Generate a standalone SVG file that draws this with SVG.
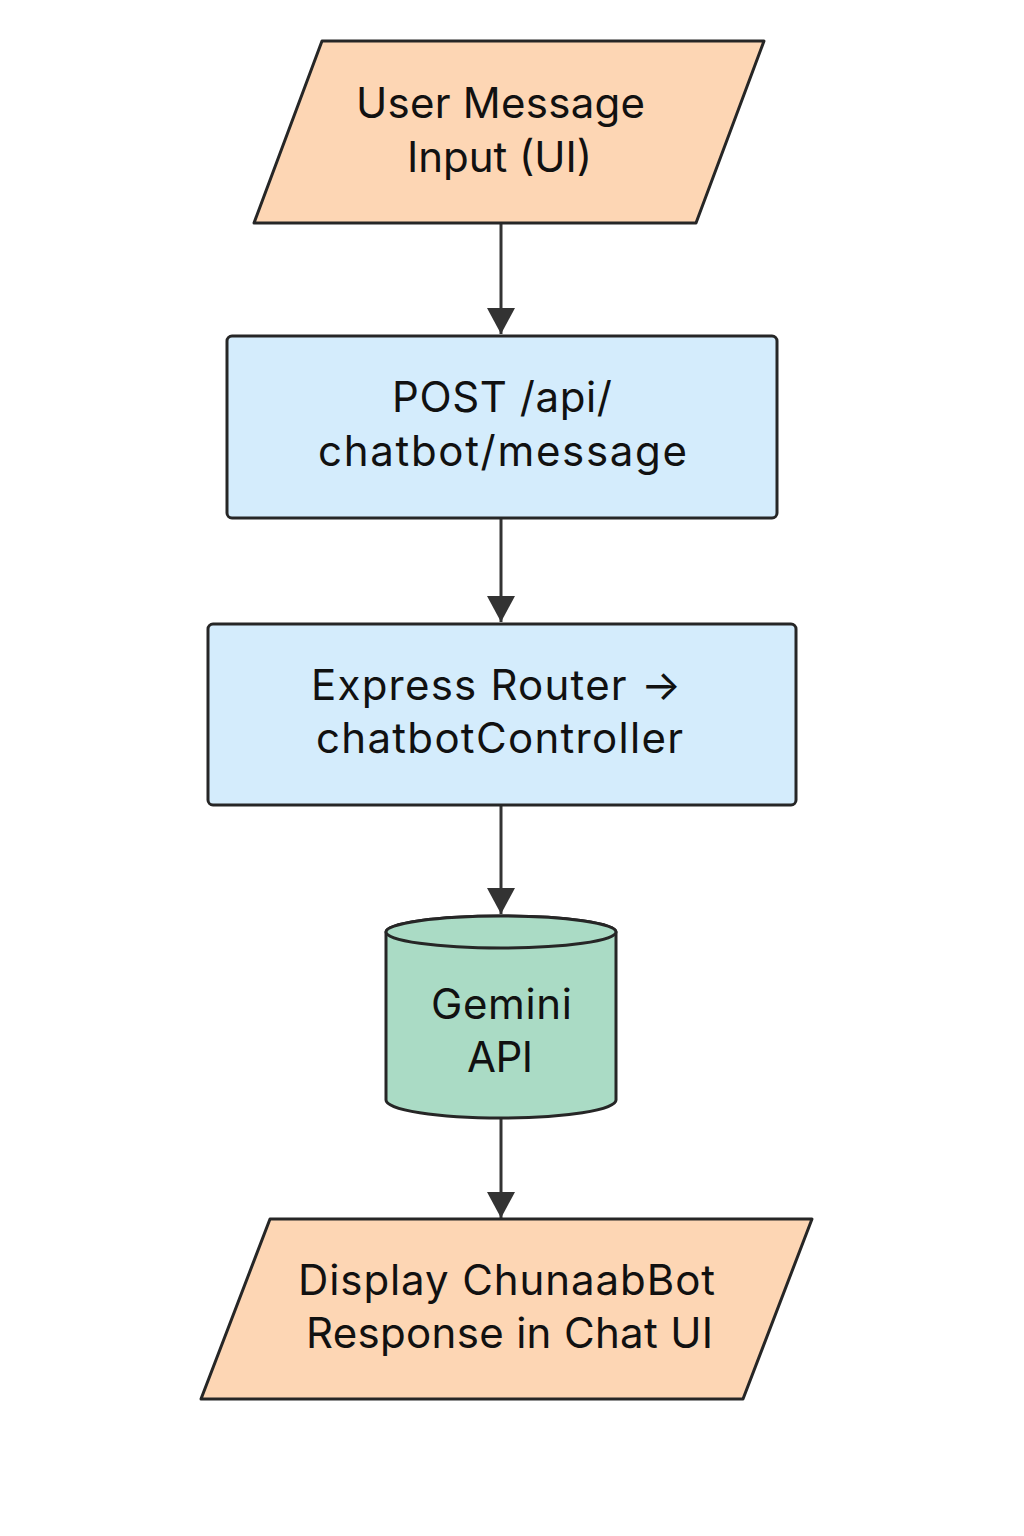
<svg xmlns="http://www.w3.org/2000/svg" width="1024" height="1536" viewBox="0 0 1024 1536">
<defs>
<style>
.s{stroke:#262626;stroke-width:3;stroke-linejoin:round}
.io{fill:#FDD6B4}
.pr{fill:#D4ECFC}
.db{fill:#AADBC5}
.t{font-family:Inter,"Noto Sans",sans-serif;font-size:42px;fill:#111;text-anchor:middle}
.c{stroke:#333;stroke-width:3;fill:none}
</style>
<marker id="a" viewBox="0 0 26 28" refX="26" refY="14" markerWidth="26" markerHeight="28" markerUnits="userSpaceOnUse" orient="auto">
<path d="M0,0 L26,14 L0,28 z" fill="#333"/>
</marker>
</defs>
<rect width="1024" height="1536" fill="#fff"/>
<g id="connectors">
<line class="c" x1="501" y1="224" x2="501" y2="334" marker-end="url(#a)"/>
<line class="c" x1="501" y1="518" x2="501" y2="622" marker-end="url(#a)"/>
<line class="c" x1="501" y1="805" x2="501" y2="914" marker-end="url(#a)"/>
<line class="c" x1="501" y1="1118" x2="501" y2="1218" marker-end="url(#a)"/>
</g>
<g id="n1">
<path class="s io" d="M322,41 L764,41 L696,223 L254,223 Z"/>
<text class="t" x="500.5" y="118" textLength="289" lengthAdjust="spacing">User Message</text>
<text class="t" x="499.5" y="172" textLength="185" lengthAdjust="spacing">Input (UI)</text>
</g>
<g id="n2">
<rect class="s pr" x="227" y="336" width="550" height="182" rx="5"/>
<text class="t" x="502" y="412" textLength="220" lengthAdjust="spacing">POST /api/</text>
<text class="t" x="502.5" y="466" textLength="369" lengthAdjust="spacing">chatbot/message</text>
</g>
<g id="n3">
<rect class="s pr" x="208" y="624" width="588" height="181" rx="5"/>
<text class="t" x="496" y="700" textLength="370" lengthAdjust="spacing">Express Router →</text>
<text class="t" x="499.5" y="753" textLength="367" lengthAdjust="spacing">chatbotController</text>
</g>
<g id="n4">
<path class="s db" d="M386,932 L386,1100 A115,18 0 0 0 616,1100 L616,932 A115,16 0 0 0 386,932 Z"/>
<path class="s db" d="M386,932 A115,16 0 0 0 616,932 A115,16 0 0 0 386,932 Z"/>
<text class="t" x="501.5" y="1019" textLength="141" lengthAdjust="spacing">Gemini</text>
<text class="t" x="500" y="1072" textLength="66" lengthAdjust="spacing">API</text>
</g>
<g id="n5">
<path class="s io" d="M270,1219 L812,1219 L743,1399 L201,1399 Z"/>
<text class="t" x="506.5" y="1295" textLength="417" lengthAdjust="spacing">Display ChunaabBot</text>
<text class="t" x="509.5" y="1348" textLength="407" lengthAdjust="spacing">Response in Chat UI</text>
</g>
</svg>
